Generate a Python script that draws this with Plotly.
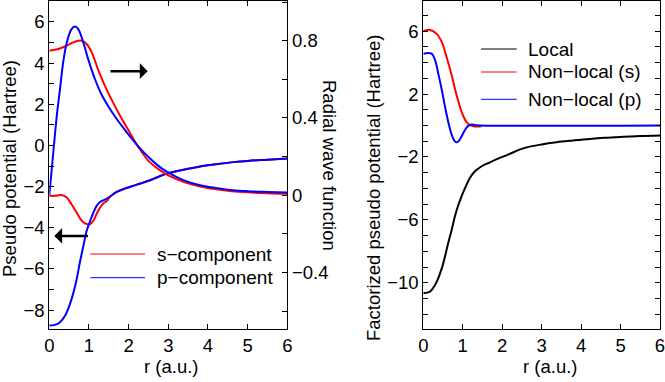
import plotly.graph_objects as go

# ---------------- Left panel data ----------------
r_wave_s = [0, 0.23, 0.4, 0.56, 0.73, 0.82, 0.94, 1.07, 1.24, 1.4, 1.57, 1.75, 2.0, 2.25, 2.5, 2.75,
            3.0, 3.4, 3.8, 4.2, 4.6, 5.0, 5.5, 6.0]
wave_s = [0.748, 0.757, 0.771, 0.788, 0.80, 0.80, 0.783, 0.74, 0.645, 0.568, 0.495, 0.425, 0.335,
          0.248, 0.178, 0.135, 0.103, 0.068, 0.045, 0.031, 0.021, 0.015, 0.010, 0.007]

r_wave_p = [0, 0.1, 0.19, 0.27, 0.35, 0.44, 0.56, 0.65, 0.73, 0.86, 0.98, 1.15, 1.32, 1.49, 1.7, 1.9,
            2.12, 2.3, 2.54, 2.75, 2.96, 3.38, 3.8, 4.2, 4.64, 5.0, 5.5, 6.0]
wave_p = [0.0, 0.22, 0.413, 0.55, 0.688, 0.79, 0.86, 0.874, 0.86, 0.79, 0.705, 0.602, 0.52, 0.46,
          0.395, 0.34, 0.283, 0.24, 0.19, 0.152, 0.122, 0.078, 0.052, 0.038, 0.026, 0.021, 0.017, 0.014]

r_pot_s = [0, 0.14, 0.31, 0.44, 0.56, 0.69, 0.82, 0.94, 1.03, 1.11, 1.19, 1.28, 1.36, 1.45, 1.53, 1.7,
           1.9, 2.1, 2.3, 2.54, 2.75, 2.96, 3.38, 3.8, 4.2, 4.64, 5.0, 5.5, 6.0]
pot_s = [-2.45, -2.45, -2.41, -2.53, -2.86, -3.26, -3.66, -3.82, -3.82, -3.66, -3.34, -3.02, -2.82,
         -2.7, -2.5, -2.26, -2.1, -1.97, -1.85, -1.69, -1.52, -1.37, -1.18, -1.02, -0.91, -0.81,
         -0.75, -0.69, -0.63]

r_pot_p = [0, 0.14, 0.27, 0.4, 0.52, 0.61, 0.69, 0.77, 0.86, 0.94, 1.03, 1.11, 1.19, 1.28, 1.4, 1.53,
           1.7, 1.9, 2.1, 2.3, 2.54, 2.75, 2.96, 3.38, 3.8, 4.2, 4.64, 5.0, 5.5, 6.0]
pot_p = [-8.75, -8.72, -8.59, -8.27, -7.71, -7.14, -6.5, -5.69, -4.88, -4.16, -3.67, -3.27, -2.95,
         -2.75, -2.63, -2.48, -2.26, -2.1, -1.97, -1.85, -1.69, -1.52, -1.37, -1.18, -1.02, -0.91,
         -0.81, -0.75, -0.69, -0.63]

# ---------------- Right panel data ----------------
r_local = [0, 0.17, 0.3, 0.38, 0.47, 0.55, 0.63, 0.72, 0.8, 0.89, 0.97, 1.06, 1.18, 1.31, 1.48, 1.69,
           1.94, 2.15, 2.53, 3.0, 3.38, 3.8, 4.22, 4.6, 5.07, 5.5, 6.0]
local = [-10.66, -10.56, -10.13, -9.7, -9.07, -8.33, -7.48, -6.63, -5.78, -5.04, -4.5, -3.97, -3.34,
         -2.91, -2.59, -2.34, -2.06, -1.85, -1.45, -1.2, -1.06, -0.95, -0.85, -0.78, -0.72, -0.67, -0.63]

r_nl_s = [0, 0.17, 0.34, 0.47, 0.59, 0.72, 0.8, 0.89, 0.97, 1.06, 1.14, 1.27, 1.48]
nl_s = [6.0, 6.08, 5.83, 5.3, 4.36, 3.2, 2.36, 1.52, 0.88, 0.36, 0.1, -0.04, -0.04]

r_nl_p = [0, 0.21, 0.3, 0.38, 0.47, 0.55, 0.64, 0.72, 0.8, 0.85, 0.89, 0.97, 1.06, 1.14, 1.23, 1.35,
          1.45, 6.0]
nl_p = [4.57, 4.57, 4.15, 3.3, 2.25, 1.2, 0.15, -0.59, -1.01, -1.07, -1.01, -0.69, -0.27, -0.02, 0.06,
        0.02, 0.0, 0.0]

left_legend = ["s\u2212component", "p\u2212component"]
right_legend = ["Local", "Non\u2212local (s)", "Non\u2212local (p)"]

RED = "#ff0000"
BLUE = "#0000ff"
FONT = "Liberation Sans, Arial, Helvetica, sans-serif"
W, H = 665, 382
MT, MB = 1, 53
PH = H - MT - MB


def px(x):
    return x / W


def py(y):
    return (H - MB - y) / PH


fig = go.Figure()
line_kw = dict(shape="spline", smoothing=1.0, width=2)

# left panel
fig.add_trace(go.Scatter(x=r_pot_s, y=pot_s, mode="lines", line=dict(color=RED, **line_kw),
                         xaxis="x", yaxis="y", showlegend=False))
fig.add_trace(go.Scatter(x=r_wave_s, y=wave_s, mode="lines", line=dict(color=RED, **line_kw),
                         xaxis="x", yaxis="y2", showlegend=False))
fig.add_trace(go.Scatter(x=r_pot_p, y=pot_p, mode="lines", line=dict(color=BLUE, **line_kw),
                         xaxis="x", yaxis="y", showlegend=False))
fig.add_trace(go.Scatter(x=r_wave_p, y=wave_p, mode="lines", line=dict(color=BLUE, **line_kw),
                         xaxis="x", yaxis="y2", showlegend=False))
# right panel
fig.add_trace(go.Scatter(x=r_local, y=local, mode="lines", line=dict(color="black", **line_kw),
                         xaxis="x2", yaxis="y3", showlegend=False))
fig.add_trace(go.Scatter(x=r_nl_s, y=nl_s, mode="lines", line=dict(color=RED, **line_kw),
                         xaxis="x2", yaxis="y3", showlegend=False))
fig.add_trace(go.Scatter(x=r_nl_p, y=nl_p, mode="lines", line=dict(color=BLUE, **line_kw),
                         xaxis="x2", yaxis="y3", showlegend=False))

axis_common = dict(showgrid=False, zeroline=False, showline=True, linecolor="black", linewidth=1,
                   ticks="inside", tickcolor="black", ticklen=5, tickwidth=1, automargin=False,
                   ticklabeloverflow="allow",
                   tickfont=dict(family=FONT, size=18.5, color="black"))

fig.update_layout(
    width=W, height=H,
    margin=dict(l=0, r=0, t=MT, b=MB, pad=0, autoexpand=False),
    paper_bgcolor="white", plot_bgcolor="white",
    font=dict(family=FONT, size=18.5, color="black"),
    hovermode=False,
    xaxis=dict(domain=[px(49.3), px(287.3)], range=[0, 6], dtick=1, tick0=0, mirror="ticks",
               anchor="y", **axis_common),
    yaxis=dict(range=[-8.92, 7.02], dtick=2, tick0=0, anchor="x",
               minor=dict(dtick=1, tick0=0, ticks="inside", ticklen=5, tickcolor="black"),
               **axis_common),
    yaxis2=dict(range=[-0.693, 1.006], dtick=0.4, tick0=0, overlaying="y", side="right",
                anchor="x",
                minor=dict(dtick=0.2, tick0=0, ticks="inside", ticklen=5, tickcolor="black"),
                **axis_common),
    xaxis2=dict(domain=[px(423.3), px(660)], range=[0, 6], dtick=1, tick0=0, mirror="ticks",
                anchor="y3", **axis_common),
    yaxis3=dict(range=[-12.94, 7.92], dtick=4, tick0=2, anchor="x2", mirror="ticks",
                minor=dict(dtick=1, tick0=0, ticks="inside", ticklen=5, tickcolor="black"),
                **axis_common),
)

ann = []
shapes = []
txt = dict(family=FONT, size=18.5, color="black")
leg = dict(family=FONT, size=19, color="black")

# axis titles
ann.append(dict(text="Pseudo potential (Hartree)", x=px(9), y=py(169), xref="paper", yref="paper",
                textangle=-90, showarrow=False, xanchor="center", yanchor="middle", font=txt))
ann.append(dict(text="Radial wave function", x=px(330), y=py(165), xref="paper", yref="paper",
                textangle=90, showarrow=False, xanchor="center", yanchor="middle", font=txt))
ann.append(dict(text="Factorized pseudo potential (Hartree)", x=px(374), y=py(188), xref="paper",
                yref="paper", textangle=-90, showarrow=False, xanchor="center", yanchor="middle",
                font=txt))
ann.append(dict(text="r (a.u.)", x=px(171), y=py(366), xref="paper", yref="paper", showarrow=False,
                xanchor="center", yanchor="middle", font=txt))
ann.append(dict(text="r (a.u.)", x=px(550), y=py(366), xref="paper", yref="paper", showarrow=False,
                xanchor="center", yanchor="middle", font=txt))

# arrows (left panel)
ann.append(dict(text="", x=2.48, y=3.61, ax=1.505, ay=3.61, xref="x", yref="y", axref="x", ayref="y",
                showarrow=True, arrowhead=1, arrowsize=1.05, arrowwidth=2.5, arrowcolor="black",
                standoff=0, startstandoff=0))
ann.append(dict(text="", x=0.126, y=-4.40, ax=1.01, ay=-4.40, xref="x", yref="y", axref="x",
                ayref="y", showarrow=True, arrowhead=1, arrowsize=1.05, arrowwidth=2.5,
                arrowcolor="black", standoff=0, startstandoff=0))

# left legend
for label, color, yy in zip(left_legend, [RED, BLUE], [254, 277.7]):
    shapes.append(dict(type="line", xref="paper", yref="paper", x0=px(90.3), x1=px(145),
                       y0=py(yy), y1=py(yy), line=dict(color=color, width=1)))
    ann.append(dict(text=label, x=px(155), y=py(yy), xref="paper", yref="paper", showarrow=False,
                    xanchor="left", yanchor="middle", font=leg))

# right legend
for label, color, yy in zip(right_legend, ["black", RED, BLUE], [49, 72, 99.3]):
    shapes.append(dict(type="line", xref="paper", yref="paper", x0=px(481), x1=px(516.7),
                       y0=py(yy), y1=py(yy), line=dict(color=color, width=1)))
    ann.append(dict(text=label, x=px(526), y=py(yy), xref="paper", yref="paper", showarrow=False,
                    xanchor="left", yanchor="middle", font=leg))

fig.update_layout(annotations=ann, shapes=shapes)
fig.write_html("out.html", config={"displayModeBar": False, "staticPlot": True},
               post_script="document.body.style.margin='0';document.body.style.overflow='hidden';")
